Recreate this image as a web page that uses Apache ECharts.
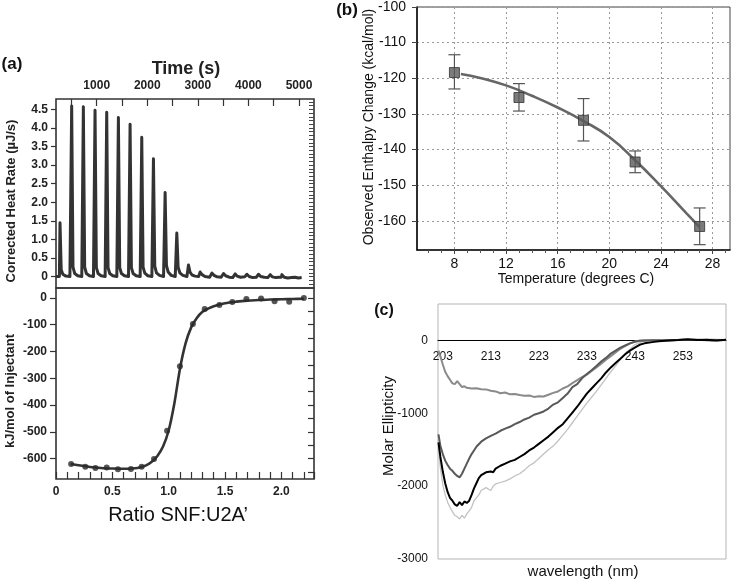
<!DOCTYPE html>
<html><head><meta charset="utf-8">
<script src="https://cdn.jsdelivr.net/npm/echarts@6/dist/echarts.min.js"></script>
<style>html,body{margin:0;padding:0;background:#fff}#c{width:738px;height:582px}</style>
</head><body><div id="c"></div>
<script>
// ---------- Panel (a) top: raw thermogram [time s, µJ/s] ----------
const heatTrace = [
  [196,0.0],[262,0.0],[274,1.45],[298,0.18],[330,0.06],[390,0.01],[470,0.0],
  [493,0.0],[505,4.59],[531,0.25],[565,0.08],[625,0.02],[705,0.0],
  [724,0.0],[736,4.57],[762,0.25],[796,0.08],[856,0.02],[936,0.0],
  [955,0.0],[967,4.48],[993,0.24],[1027,0.08],[1087,0.02],[1167,0.0],
  [1186,0.0],[1198,4.42],[1224,0.24],[1258,0.08],[1318,0.02],[1398,0.0],
  [1417,0.0],[1429,4.28],[1455,0.24],[1489,0.08],[1549,0.02],[1629,0.0],
  [1648,0.0],[1660,4.10],[1686,0.24],[1720,0.08],[1780,0.02],[1860,0.0],
  [1879,0.0],[1891,3.75],[1917,0.25],[1951,0.09],[2011,0.02],[2091,0.0],
  [2110,0.0],[2122,3.17],[2148,0.28],[2182,0.10],[2242,0.03],[2322,0.0],
  [2341,0.0],[2353,2.26],[2379,0.30],[2413,0.12],[2473,0.03],[2553,0.0],
  [2572,0.0],[2584,1.17],[2610,0.25],[2644,0.10],[2704,0.03],[2784,0.0],
  [2803,0.0],[2815,0.31],[2845,0.12],[2885,0.04],[2945,0.01],[3015,0.0],
  [3034,0.0],[3046,0.12],[3083,0.05],[3143,0.0],[3233,-0.02],
  [3265,-0.01],[3277,0.09],[3321,0.03],[3381,-0.01],[3461,-0.02],
  [3496,-0.01],[3508,0.08],[3549,0.02],[3619,-0.02],[3689,-0.03],
  [3727,-0.02],[3739,0.07],[3777,0.01],[3847,-0.02],[3927,-0.01],
  [3958,-0.01],[3970,0.06],[4015,0.0],[4085,-0.03],[4155,-0.02],
  [4189,-0.01],[4201,0.06],[4243,0.0],[4313,-0.02],[4383,-0.03],
  [4420,-0.02],[4432,0.05],[4471,-0.01],[4541,-0.03],[4611,-0.02],
  [4651,-0.02],[4663,0.05],[4709,-0.02],[4779,-0.04],[4849,-0.03],
  [4920,-0.02],[4990,-0.04],[5053,-0.03]
];
const timeTickValues = [500,1000,1500,2000,2500,3000,3500,4000,4500,5000];
const timeLabelValues = [1000,2000,3000,4000,5000];
const heatRateLabels = [0,0.5,1.0,1.5,2.0,2.5,3.0,3.5,4.0,4.5];
const heatRateMinor = [-0.2,-0.1,0,0.1,0.2,0.3,0.4,0.5,0.6,0.7,0.8,0.9,1.0,1.1,1.2,1.3,1.4,1.5,1.6,1.7,1.8,1.9,2.0,2.1,2.2,2.3,2.4,2.5,2.6,2.7,2.8,2.9,3.0,3.1,3.2,3.3,3.4,3.5,3.6,3.7,3.8,3.9,4.0,4.1,4.2,4.3,4.4,4.5,4.6,4.7];

// ---------- Panel (a) bottom: integrated heats ----------
const ratioPts = [0.134,0.26,0.35,0.45,0.55,0.665,0.76,0.87,0.986,1.10,1.215,1.32,1.45,1.565,1.69,1.82,1.94,2.07,2.20];
const heatPts  = [-620,-630,-635,-633,-640,-639,-630,-601,-496,-255,-97,-41,-26,-15,-4,-2,-12,-14,0];
const fitRatio = [0.13,0.2,0.3,0.4,0.5,0.6,0.7,0.75,0.8,0.85,0.9,0.95,1.0,1.05,1.1,1.15,1.2,1.25,1.3,1.35,1.4,1.5,1.6,1.7,1.8,1.9,2.0,2.1,2.2];
const fitHeat  = [-620,-625,-631,-635,-637,-638,-636,-632,-625,-612,-590,-555,-495,-395,-265,-170,-110,-75,-52,-40,-31,-20,-14,-10,-8,-6,-5,-4,-3];
const injectantLabels = [0,-100,-200,-300,-400,-500,-600];
const injectantMinor = [-650,-600,-550,-500,-450,-400,-350,-300,-250,-200,-150,-100,-50,0];

// ---------- Panel (b): enthalpy vs temperature ----------
const temps    = [8,13,18,22,27];
const enthalpy = [-118.4,-125.4,-131.8,-143.5,-161.6];
const errLow   = [-123.0,-129.2,-137.6,-146.5,-166.7];
const errHigh  = [-113.4,-121.5,-125.7,-140.4,-156.4];
const fitTemps    = [8.5,10,12,14,16,18,20,22,24,26,27];
const fitEnthalpy = [-118.8,-119.9,-122.0,-124.9,-128.2,-132.0,-136.5,-143.0,-150.3,-158.0,-161.8];
const tempLabels = [8,12,16,20,24,28];
const tempMinor  = [6,7,9,10,11,13,14,15,17,18,19,21,22,23,25,26,27,29];
const enthalpyLabels = [-160,-150,-140,-130,-120,-110,-100];

// ---------- Panel (c): CD spectra [nm, molar ellipticity] ----------
const cdMedium = [[202.1,-140],[202.5,-220],[203,-330],[203.5,-430],[204,-490],[204.5,-540],[205,-590],[205.5,-600],[206,-560],[206.5,-600],[207,-640],[207.5,-630],[208,-650],[209,-660],[210,-655],[211,-670],[212,-672],[213,-690],[214,-700],[215,-725],[216,-715],[217,-740],[218,-735],[219,-750],[220,-760],[221,-755],[222,-775],[223,-765],[224,-770],[225,-745],[226,-720],[227,-700],[228,-660],[229,-630],[230,-585],[231,-545],[232,-505],[233,-470],[234,-420],[235,-370],[236,-320],[237,-265],[238,-215],[239,-165],[240,-115],[241,-75],[242,-40],[243,-15],[244,-5],[245,0],[247,5],[250,0],[253,10],[256,5],[259,10],[262,5]];
const cdDark = [[202.1,-1290],[202.5,-1450],[203,-1560],[203.5,-1650],[204,-1710],[204.5,-1760],[205,-1790],[205.5,-1830],[206,-1860],[206.5,-1880],[207,-1830],[207.5,-1760],[208,-1690],[208.5,-1620],[209,-1560],[209.5,-1510],[210,-1460],[211,-1390],[212,-1345],[213,-1310],[214,-1280],[215,-1240],[216,-1210],[217,-1185],[218,-1150],[219,-1120],[220,-1085],[221,-1060],[222,-1020],[223,-1000],[224,-975],[225,-935],[226,-880],[227,-850],[228,-790],[229,-730],[230,-640],[231,-600],[232,-520],[233,-460],[234,-410],[235,-350],[236,-290],[237,-240],[238,-180],[239,-140],[240,-100],[241,-70],[242,-40],[243,-20],[244,-5],[245,0],[248,0],[252,5],[256,10],[259,0],[262,5]];
const cdBlack = [[202.1,-1400],[202.5,-1600],[203,-1800],[203.5,-1960],[204,-2080],[204.5,-2160],[205,-2200],[205.5,-2250],[206,-2270],[206.5,-2220],[207,-2260],[207.5,-2210],[208,-2230],[208.5,-2200],[209,-2120],[209.5,-2030],[210,-1960],[210.5,-1890],[211,-1850],[212,-1810],[213,-1800],[213.5,-1810],[214,-1760],[215,-1720],[216,-1690],[217,-1660],[218,-1640],[219,-1600],[220,-1560],[221,-1510],[222,-1470],[223,-1420],[224,-1370],[225,-1320],[226,-1260],[227,-1200],[228,-1150],[229,-1070],[230,-990],[231,-910],[232,-820],[233,-730],[234,-660],[235,-590],[236,-520],[237,-440],[238,-370],[239,-310],[240,-250],[241,-190],[242,-140],[243,-100],[244,-60],[245,-40],[246,-30],[247,-20],[248,-10],[250,0],[252,5],[254,15],[256,5],[258,10],[260,0],[262,10]];
const cdLight = [[202.1,-1480],[202.5,-1750],[203,-1980],[203.5,-2120],[204,-2220],[204.5,-2290],[205,-2350],[205.5,-2400],[206,-2420],[206.5,-2450],[207,-2400],[207.5,-2440],[208,-2380],[208.5,-2340],[209,-2290],[209.5,-2200],[210,-2160],[210.5,-2120],[211,-2060],[212,-2020],[213,-2060],[213.5,-2000],[214,-1970],[215,-1950],[216,-1930],[217,-1900],[218,-1860],[219,-1830],[220,-1780],[221,-1720],[222,-1680],[223,-1620],[224,-1560],[225,-1500],[226,-1450],[227,-1380],[228,-1300],[229,-1220],[230,-1130],[231,-1040],[232,-950],[233,-860],[234,-780],[235,-700],[236,-610],[237,-520],[238,-430],[239,-350],[240,-260],[241,-180],[242,-120],[243,-60],[244,-30],[245,-10],[246,0],[250,0],[262,0]];
const wavelengthLabels = [203,213,223,233,243,253];
const ellipticityLabels = [-3000,-2000,-1000,0];

const FONT = '"Liberation Sans", Arial, sans-serif';
const chart = echarts.init(document.getElementById('c'), null, {renderer: 'canvas'});

const boldLbl = (size) => ({fontFamily: FONT, fontWeight: 'bold', fontSize: size, color: '#222'});
const regLbl = (size) => ({fontFamily: FONT, fontSize: size, color: '#111'});
const plain = v => String(v);

// panel (c) grid geometry; the wavelength axis sits on the zero line
const cGrid = {left: 438, top: 304, width: 288, height: 255};
const cMin = -3000, cMax = 500;
const cZeroOffset = cGrid.height * (0 - cMin) / (cMax - cMin);

const option = {
  animation: false,
  backgroundColor: '#fff',
  grid: [
    {left: 56, top: 99, width: 258, height: 189, show: true, borderColor: '#333', borderWidth: 1.6, backgroundColor: 'transparent'},
    {left: 56, top: 288, width: 258, height: 191, show: true, borderColor: '#333', borderWidth: 1.6, backgroundColor: 'transparent'},
    {left: 417, top: 7, width: 313, height: 243, show: true, borderColor: '#444', borderWidth: 1, backgroundColor: 'transparent'},
    Object.assign({show: true, borderColor: '#b5b5b5', borderWidth: 1, backgroundColor: 'transparent'}, cGrid)
  ],
  xAxis: [
    {gridIndex: 0, type: 'value', position: 'top', min: 195, max: 5297,
     axisLine: {show: false, onZero: false},
     axisTick: {show: true, inside: true, length: 7, lineStyle: {color: '#333', width: 1.2}, customValues: timeTickValues},
     axisLabel: {show: true, margin: 7, customValues: timeLabelValues, formatter: plain, ...boldLbl(12)},
     splitLine: {show: false}},
    {gridIndex: 1, type: 'value', position: 'bottom', min: 0, max: 2.29, interval: 0.5,
     axisLine: {show: false, onZero: false},
     axisTick: {show: true, inside: true, length: 7, lineStyle: {color: '#333', width: 1.2}},
     minorTick: {show: true, splitNumber: 5, length: 7, lineStyle: {color: '#333', width: 1.2}},
     axisLabel: {show: true, margin: 7, showMaxLabel: false, ...boldLbl(12),
       formatter: v => (v === 0 ? '0' : v.toFixed(1))},
     splitLine: {show: false}},
    {gridIndex: 2, type: 'value', position: 'bottom', min: 5.1, max: 29.35,
     axisLine: {show: true, onZero: false, lineStyle: {color: '#111', width: 1.6}},
     axisTick: {show: true, length: 4, lineStyle: {color: '#444'}, customValues: tempLabels},
     axisLabel: {show: true, margin: 7, customValues: tempLabels, formatter: plain, ...regLbl(14)},
     splitLine: {show: true, lineStyle: {color: '#9a9a9a', type: [2, 3], width: 1}}},
    {gridIndex: 2, type: 'value', position: 'bottom', min: 5.1, max: 29.35,
     axisLine: {show: false, onZero: false},
     axisTick: {show: true, length: 3, lineStyle: {color: '#555'}, customValues: tempMinor},
     axisLabel: {show: false}, splitLine: {show: false}},
    {gridIndex: 3, type: 'value', position: 'bottom', min: 202, max: 262, offset: -cZeroOffset,
     axisLine: {show: true, onZero: false, lineStyle: {color: '#000', width: 1}},
     axisTick: {show: false},
     axisLabel: {show: true, margin: 10, customValues: wavelengthLabels, formatter: plain, ...regLbl(12)},
     splitLine: {show: false}}
  ],
  yAxis: [
    {gridIndex: 0, type: 'value', min: -0.31, max: 4.78,
     axisLine: {show: false, onZero: false},
     axisTick: {show: true, inside: false, length: 5, lineStyle: {color: '#333', width: 1.2}, customValues: heatRateLabels},
     axisLabel: {show: true, margin: 8, customValues: heatRateLabels, ...boldLbl(12),
       formatter: v => (v === 0 ? '0' : v.toFixed(1))},
     splitLine: {show: false}},
    {gridIndex: 0, type: 'value', min: -0.31, max: 4.78,
     axisLine: {show: false, onZero: false},
     axisTick: {show: true, inside: true, length: 5, lineStyle: {color: '#444', width: 1}, customValues: heatRateMinor},
     axisLabel: {show: false}, splitLine: {show: false}},
    {gridIndex: 1, type: 'value', min: -676, max: 37,
     axisLine: {show: false, onZero: false},
     axisTick: {show: true, inside: false, length: 6, lineStyle: {color: '#333', width: 1.2}, customValues: injectantLabels},
     axisLabel: {show: true, margin: 9, customValues: injectantLabels, formatter: plain, ...boldLbl(12)},
     splitLine: {show: false}},
    {gridIndex: 1, type: 'value', min: -676, max: 37,
     axisLine: {show: false, onZero: false},
     axisTick: {show: true, inside: true, length: 6, lineStyle: {color: '#333', width: 1.2}, customValues: injectantMinor},
     axisLabel: {show: false}, splitLine: {show: false}},
    {gridIndex: 2, type: 'value', min: -168.2, max: -100,
     axisLine: {show: true, onZero: false, lineStyle: {color: '#111', width: 1.6}},
     axisTick: {show: true, length: 5, lineStyle: {color: '#444'}, customValues: enthalpyLabels},
     axisLabel: {show: true, margin: 11, customValues: enthalpyLabels, formatter: plain, ...regLbl(14)},
     splitLine: {show: true, lineStyle: {color: '#9a9a9a', type: [2, 3], width: 1}}},
    {gridIndex: 3, type: 'value', min: cMin, max: cMax,
     axisLine: {show: false, onZero: false},
     axisTick: {show: false},
     axisLabel: {show: true, margin: 10, customValues: ellipticityLabels, formatter: plain, ...regLbl(12)},
     splitLine: {show: false}}
  ],
  series: [
    {type: 'line', xAxisIndex: 0, yAxisIndex: 0, data: heatTrace, showSymbol: false, clip: true,
     lineStyle: {color: '#333', width: 3, join: 'round'}},
    {type: 'line', xAxisIndex: 1, yAxisIndex: 2, data: fitRatio.map((x, i) => [x, fitHeat[i]]), showSymbol: false, smooth: 0.3,
     lineStyle: {color: '#333', width: 2.6}},
    {type: 'scatter', xAxisIndex: 1, yAxisIndex: 2, data: ratioPts.map((x, i) => [x, heatPts[i]]), symbolSize: 6,
     itemStyle: {color: '#2a2a2a'}, z: 4},
    {type: 'line', xAxisIndex: 2, yAxisIndex: 4, data: fitTemps.map((x, i) => [x, fitEnthalpy[i]]), showSymbol: false, smooth: true,
     lineStyle: {color: '#666', width: 2.6}, z: 2},
    {type: 'custom', xAxisIndex: 2, yAxisIndex: 4, z: 3,
     data: temps.map((t, i) => [t, errLow[i], errHigh[i]]),
     encode: {x: 0, y: [1, 2]},
     renderItem: (params, api) => {
       const x = api.value(0);
       const lo = api.coord([x, api.value(1)]);
       const hi = api.coord([x, api.value(2)]);
       const w = 6;
       const st = {stroke: '#555', lineWidth: 1.2};
       return {type: 'group', children: [
         {type: 'line', shape: {x1: lo[0], y1: lo[1], x2: hi[0], y2: hi[1]}, style: st},
         {type: 'line', shape: {x1: lo[0] - w, y1: lo[1], x2: lo[0] + w, y2: lo[1]}, style: st},
         {type: 'line', shape: {x1: hi[0] - w, y1: hi[1], x2: hi[0] + w, y2: hi[1]}, style: st}
       ]};
     }},
    {type: 'scatter', xAxisIndex: 2, yAxisIndex: 4, data: temps.map((t, i) => [t, enthalpy[i]]), symbol: 'rect', symbolSize: 10,
     itemStyle: {color: '#5a5a5a', borderColor: '#333', borderWidth: 1}, z: 5},
    {type: 'line', xAxisIndex: 4, yAxisIndex: 5, data: cdLight, showSymbol: false, lineStyle: {color: '#c2c2c2', width: 1.3}},
    {type: 'line', xAxisIndex: 4, yAxisIndex: 5, data: cdMedium, showSymbol: false, lineStyle: {color: '#8a8a8a', width: 2}},
    {type: 'line', xAxisIndex: 4, yAxisIndex: 5, data: cdDark, showSymbol: false, lineStyle: {color: '#595959', width: 2}},
    {type: 'line', xAxisIndex: 4, yAxisIndex: 5, data: cdBlack, showSymbol: false, lineStyle: {color: '#000', width: 2}}
  ],
  graphic: [
    {type: 'text', x: 12, y: 64, style: {text: '(a)', font: 'bold 17px ' + FONT, fill: '#111', align: 'center', verticalAlign: 'middle'}},
    {type: 'text', x: 347, y: 10, style: {text: '(b)', font: 'bold 17px ' + FONT, fill: '#111', align: 'center', verticalAlign: 'middle'}},
    {type: 'text', x: 384, y: 311, style: {text: '(c)', font: 'bold 16px ' + FONT, fill: '#111', align: 'center', verticalAlign: 'middle'}},
    {type: 'text', x: 186, y: 69, style: {text: 'Time (s)', font: 'bold 18px ' + FONT, fill: '#222', align: 'center', verticalAlign: 'middle'}},
    {type: 'text', x: 11, y: 201, rotation: Math.PI / 2, style: {text: 'Corrected Heat Rate (µJ/s)', font: 'bold 13px ' + FONT, fill: '#222', align: 'center', verticalAlign: 'middle'}},
    {type: 'text', x: 10, y: 391, rotation: Math.PI / 2, style: {text: 'kJ/mol of Injectant', font: 'bold 13px ' + FONT, fill: '#222', align: 'center', verticalAlign: 'middle'}},
    {type: 'text', x: 178, y: 515, style: {text: 'Ratio SNF:U2A’', font: '20px ' + FONT, fill: '#111', align: 'center', verticalAlign: 'middle'}},
    {type: 'text', x: 369, y: 127, rotation: Math.PI / 2, style: {text: 'Observed Enthalpy Change (kcal/mol)', font: '14px ' + FONT, fill: '#111', align: 'center', verticalAlign: 'middle'}},
    {type: 'text', x: 576, y: 279, style: {text: 'Temperature (degrees C)', font: '14px ' + FONT, fill: '#111', align: 'center', verticalAlign: 'middle'}},
    {type: 'text', x: 389, y: 426, rotation: Math.PI / 2, style: {text: 'Molar Ellipticity', font: '15px ' + FONT, fill: '#111', align: 'center', verticalAlign: 'middle'}},
    {type: 'text', x: 583, y: 572, style: {text: 'wavelength (nm)', font: '15px ' + FONT, fill: '#111', align: 'center', verticalAlign: 'middle'}}
  ]
};
chart.setOption(option);
</script>
</body></html>
